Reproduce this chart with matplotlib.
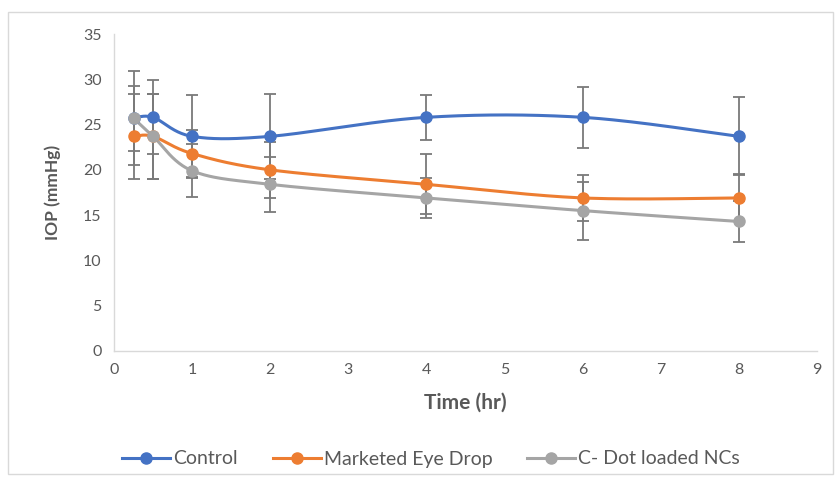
import numpy as np
import matplotlib
matplotlib.use("Agg")
import matplotlib.pyplot as plt
from matplotlib.patches import Rectangle

# ---- data ----
time_hr = [0.25, 0.5, 1, 2, 4, 6, 8]
control = [25.7, 25.8, 23.7, 23.7, 25.8, 25.8, 23.7]
control_err = [5.2, 4.1, 4.6, 4.7, 2.5, 3.4, 4.3]
marketed = [23.7, 23.7, 21.8, 20.0, 18.4, 16.9, 16.9]
marketed_err = [4.7, 4.7, 2.6, 3.1, 3.3, 2.5, 2.6]
cdot = [25.7, 23.7, 19.9, 18.4, 16.9, 15.5, 14.3]
cdot_err = [3.6, 4.7, 2.9, 3.0, 2.2, 3.2, 2.3]

series_names = ["Control", "Marketed Eye Drop", "C- Dot loaded NCs"]
x_ticks = [0, 1, 2, 3, 4, 5, 6, 7, 8, 9]
y_ticks = [0, 5, 10, 15, 20, 25, 30, 35]

colors = ["#4472C4", "#ED7D31", "#A5A5A5"]
err_color = "#7a7a7a"
text_color = "#595959"

plt.rcParams['font.family'] = ['Lato', 'DejaVu Sans']


def smooth(xs, ys, n=40):
    """Excel-like smoothed line (Catmull-Rom as cubic Bezier)."""
    P = np.column_stack([xs, ys]).astype(float)
    m = len(P)
    out = []
    for i in range(m - 1):
        p0 = P[i - 1] if i > 0 else P[i]
        p1 = P[i]
        p2 = P[i + 1]
        p3 = P[i + 2] if i + 2 < m else P[i + 1]
        c1 = p1 + (p2 - p0) / 6.0
        c2 = p2 - (p3 - p1) / 6.0
        t = np.linspace(0, 1, n)[:, None]
        seg = ((1 - t) ** 3) * p1 + 3 * ((1 - t) ** 2) * t * c1 + 3 * (1 - t) * t ** 2 * c2 + t ** 3 * p2
        if i > 0:
            seg = seg[1:]
        out.append(seg)
    out = np.vstack(out)
    return out[:, 0], out[:, 1]


fig = plt.figure(figsize=(8.36, 4.83), dpi=100)
fig.patches.append(Rectangle((8 / 836, 1 - 474 / 483), 825 / 836, 462 / 483,
                             transform=fig.transFigure, fill=False,
                             edgecolor="#d9d9d9", linewidth=1.0))
ax = fig.add_axes([114 / 836, 1 - 351 / 483, (817 - 114) / 836, (351 - 34) / 483])

all_y = [control, marketed, cdot]
all_e = [control_err, marketed_err, cdot_err]
handles = []
for ys, es, c, name in zip(all_y, all_e, colors, series_names):
    ax.errorbar(time_hr, ys, yerr=es, fmt="none", ecolor=err_color,
                elinewidth=1.3, capsize=4, capthick=1.3, zorder=2)
for ys, c, name in zip(all_y, colors, series_names):
    sx, sy = smooth(time_hr, ys)
    ax.plot(sx, sy, color=c, lw=2.2, zorder=3, solid_capstyle="round")
    ax.plot(time_hr, ys, "o", color=c, markersize=8, zorder=4)
    h, = ax.plot([], [], "-o", color=c, lw=2.2, markersize=8, label=name)
    handles.append(h)

ax.set_xlim(0, 9)
ax.set_ylim(0, 35)
ax.set_xticks(x_ticks)
ax.set_yticks(y_ticks)
for s in ["top", "right"]:
    ax.spines[s].set_visible(False)
for s in ["left", "bottom"]:
    ax.spines[s].set_color("#d9d9d9")
    ax.spines[s].set_linewidth(1.0)
ax.tick_params(length=0, labelsize=11.5, colors=text_color, pad=9)
ax.tick_params(axis="x", pad=9)

ax.set_xlabel("Time (hr)", fontsize=15, fontweight="bold", color=text_color, labelpad=11)
ax.set_ylabel("IOP (mmHg)", fontsize=12.5, fontweight="bold", color=text_color, labelpad=16)

fig.legend(handles=handles, loc="center", bbox_to_anchor=(431 / 836, 1 - 459 / 483),
           ncol=3, frameon=False, fontsize=14, handlelength=2.47, columnspacing=1.8,
           handletextpad=0.15, labelcolor=text_color)

fig.savefig("out.png", dpi=100, facecolor="white")
